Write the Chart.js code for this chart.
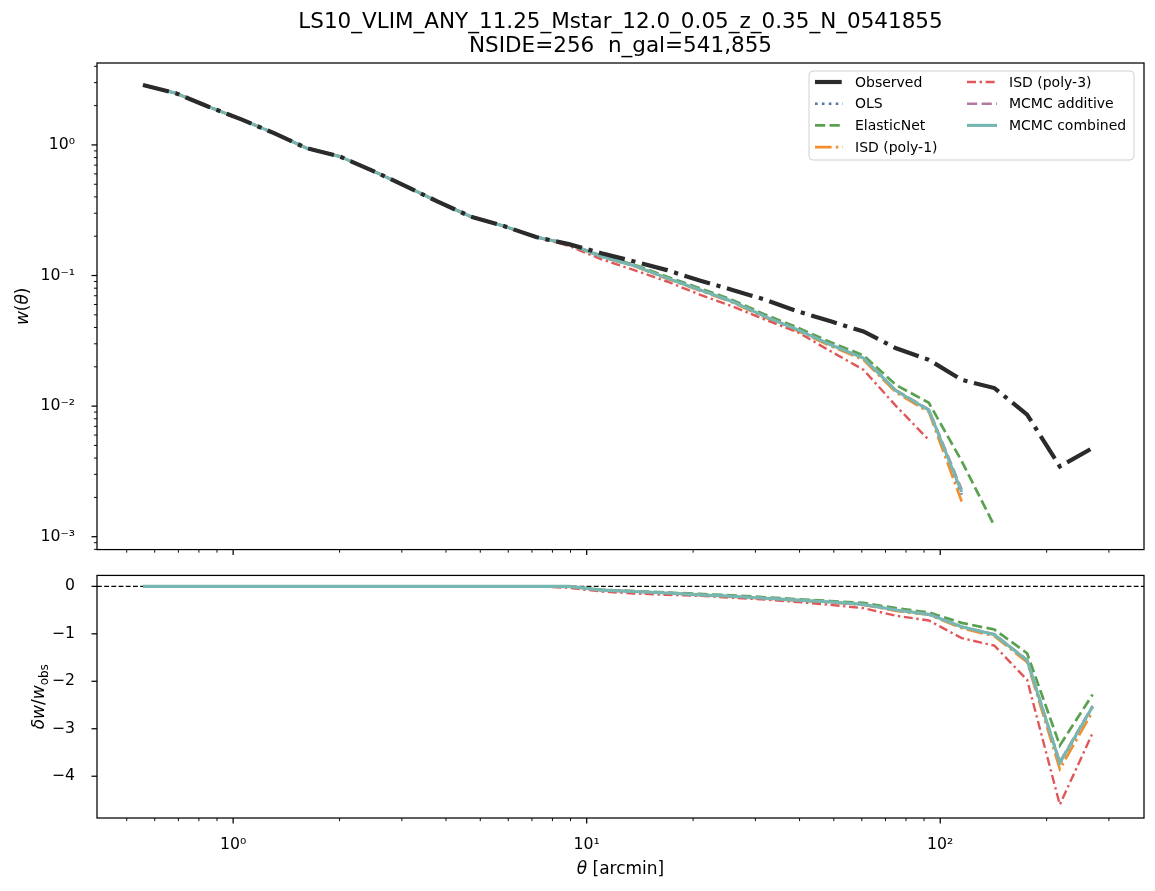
<!DOCTYPE html>
<html>
<head>
<meta charset="utf-8">
<script src="https://cdn.jsdelivr.net/npm/chart.js@4.4.1/dist/chart.umd.min.js"></script>
<style>
  body { margin: 0; background: #fff; }
  #fig { position: relative; width: 1155px; height: 891px; }
  #fig canvas { position: absolute; left: 0; }
  #title { position: absolute; left: 97px; width: 1047px; top: 9px; text-align: center;
           font-family: 'DejaVu Sans'; font-size: 21.5px; line-height: 24px; color: #000; }
</style>
</head>
<body>
<div id="fig">
  <!-- the two canvases overlap a little: chart.js keeps room for the outer tick labels -->
  <canvas id="top" width="1155" height="573" style="top:0"></canvas>
  <canvas id="bottom" width="1155" height="339" style="top:552px"></canvas>
  <div id="title">LS10_VLIM_ANY_11.25_Mstar_12.0_0.05_z_0.35_N_0541855<br>NSIDE=256&nbsp;&nbsp;n_gal=541,855</div>
</div>
<script>
// theta bin centres [arcmin]
const theta = [0.556, 0.688, 0.852, 1.055, 1.305, 1.616, 2.000, 2.475, 3.064, 3.792,
               4.693, 5.807, 7.188, 8.896, 11.01, 13.63, 16.87, 20.87, 25.84, 31.98,
               39.58, 48.99, 60.63, 75.04, 92.88, 114.96, 142.3, 176.1, 217.9, 269.7];

// w(theta), top panel
const wObs = [2.88, 2.49, 1.96, 1.57, 1.23, 0.943, 0.817, 0.636, 0.486, 0.368,
              0.283, 0.240, 0.197, 0.174, 0.148, 0.128, 0.110, 0.0916, 0.0776, 0.0653,
              0.0531, 0.0446, 0.0373, 0.0277, 0.0226, 0.0159, 0.01375, 0.0086, 0.00345, 0.00478];
const wOLS = [2.88, 2.49, 1.96, 1.57, 1.23, 0.943, 0.817, 0.636, 0.486, 0.368,
              0.283, 0.240, 0.197, 0.174, 0.140, 0.119, 0.0953, 0.0775, 0.0630, 0.0483,
              0.0382, 0.0293, 0.0231, 0.0130, 0.0092, 0.0021, null, null, null, null];
const wElastic = [2.88, 2.49, 1.96, 1.57, 1.23, 0.943, 0.817, 0.636, 0.486, 0.368,
              0.283, 0.240, 0.197, 0.174, 0.142, 0.121, 0.098, 0.080, 0.065, 0.0502,
              0.0398, 0.0308, 0.0245, 0.0145, 0.0106, 0.0038, 0.00121, null, null, null];
const wIsd1 = [2.88, 2.49, 1.96, 1.57, 1.23, 0.943, 0.817, 0.636, 0.486, 0.368,
              0.283, 0.240, 0.197, 0.174, 0.139, 0.118, 0.0945, 0.0768, 0.0622, 0.0477,
              0.0376, 0.0288, 0.0226, 0.0127, 0.0090, 0.00186, null, null, null, null];
const wIsd3 = [2.88, 2.49, 1.96, 1.57, 1.23, 0.943, 0.817, 0.636, 0.486, 0.368,
              0.283, 0.240, 0.197, 0.169, 0.133, 0.110, 0.090, 0.0715, 0.0580, 0.0459,
              0.0367, 0.0263, 0.0190, 0.0100, 0.0055, null, null, null, null, null];
const wMcmcAdd = [2.88, 2.49, 1.96, 1.57, 1.23, 0.943, 0.817, 0.636, 0.486, 0.368,
              0.283, 0.240, 0.197, 0.174, 0.140, 0.119, 0.0956, 0.0778, 0.0633, 0.0486,
              0.0385, 0.0296, 0.0234, 0.0132, 0.0094, 0.0023, null, null, null, null];
const wMcmcComb = [2.88, 2.49, 1.96, 1.57, 1.23, 0.943, 0.817, 0.636, 0.486, 0.368,
              0.283, 0.240, 0.197, 0.174, 0.140, 0.119, 0.0955, 0.0777, 0.0632, 0.0485,
              0.0384, 0.0295, 0.0233, 0.0131, 0.0093, 0.0022, null, null, null, null];

// delta w / w_obs, bottom panel
const dOLS = [0, 0, 0, 0, 0, 0, 0, 0, 0, 0, 0, 0, 0, 0,
              -0.08, -0.11, -0.14, -0.18, -0.21, -0.25, -0.29, -0.33, -0.38, -0.51, -0.59, -0.86, -1.02, -1.57, -3.74, -2.55];
const dElastic = [0, 0, 0, 0, 0, 0, 0, 0, 0, 0, 0, 0, 0, 0,
              -0.07, -0.10, -0.13, -0.16, -0.19, -0.23, -0.27, -0.31, -0.35, -0.46, -0.55, -0.77, -0.91, -1.41, -3.35, -2.28];
const dIsd1 = [0, 0, 0, 0, 0, 0, 0, 0, 0, 0, 0, 0, 0, 0,
              -0.08, -0.11, -0.14, -0.18, -0.22, -0.26, -0.30, -0.34, -0.39, -0.52, -0.60, -0.88, -1.05, -1.60, -3.85, -2.64];
const dIsd3 = [0, 0, 0, 0, 0, 0, 0, 0, 0, 0, 0, 0, 0, -0.03,
              -0.11, -0.15, -0.18, -0.20, -0.24, -0.28, -0.33, -0.39, -0.46, -0.62, -0.72, -1.09, -1.25, -1.97, -4.60, -3.09];
const dMcmcAdd = [0, 0, 0, 0, 0, 0, 0, 0, 0, 0, 0, 0, 0, 0,
              -0.08, -0.11, -0.14, -0.18, -0.21, -0.25, -0.29, -0.33, -0.38, -0.50, -0.58, -0.85, -1.01, -1.55, -3.70, -2.52];
const dMcmcComb = [0, 0, 0, 0, 0, 0, 0, 0, 0, 0, 0, 0, 0, 0,
              -0.08, -0.11, -0.14, -0.18, -0.21, -0.25, -0.29, -0.33, -0.38, -0.50, -0.59, -0.85, -1.02, -1.56, -3.72, -2.53];

// tick labels
const xMajor = [1, 10, 100];
const xTickLabels = ['10⁰', '10¹', '10²'];
const yTopMajor = [0.001, 0.01, 0.1, 1];
const yTopTickLabels = ['10⁻³', '10⁻²', '10⁻¹', '10⁰'];
const yBotTicks = [0, -1, -2, -3, -4];
const yBotTickLabels = ['0', '−1', '−2', '−3', '−4'];

const FONT = "'DejaVu Sans'";
Chart.defaults.font.family = FONT;
Chart.defaults.color = '#000';

// line styles (matplotlib-ish)
const styles = {
  obs:   { color: '#2b2b2b', width: 4.2, dash: [26.7, 6.7, 4.2, 6.7] },
  ols:   { color: '#4e79a7', width: 2.6, dash: [2.6, 4.3] },
  enet:  { color: '#59a14f', width: 2.7, dash: [10.2, 4.4] },
  isd1:  { color: '#f28e2b', width: 2.6, dash: [16.6, 4.2, 2.6, 4.2] },
  isd3:  { color: '#e15759', width: 2.4, dash: [9, 3.6, 2.4, 3.6] },
  add:   { color: '#b07aa1', width: 2.6, dash: [10.2, 4.4] },
  comb:  { color: '#76b7b2', width: 3.1, dash: [] }
};

function series(label, vals, st, order) {
  return {
    label,
    data: theta.map((t, i) => ({ x: t, y: vals[i] })),
    borderColor: st.color,
    borderWidth: st.width,
    borderDash: st.dash,
    borderCapStyle: 'butt',
    pointRadius: 0,
    fill: false,
    tension: 0,
    spanGaps: false,
    order
  };
}

function logTicks(min, max) {
  const out = [];
  for (let e = Math.floor(Math.log10(min)); e <= Math.ceil(Math.log10(max)); e++) {
    for (let k = 1; k <= 9; k++) {
      const v = k * Math.pow(10, e);
      if (v >= min && v <= max) out.push({ value: v, major: k === 1 });
    }
  }
  return out;
}

function labelFor(v, majors, labels) {
  for (let i = 0; i < majors.length; i++) {
    if (Math.abs(v / majors[i] - 1) < 1e-6) return labels[i];
  }
  return '';
}

// draws text made of differently styled pieces, centred at (x, y)
function drawParts(ctx, parts, x, y, rot) {
  ctx.save();
  ctx.translate(x, y);
  if (rot) ctx.rotate(-Math.PI / 2);
  ctx.textBaseline = 'alphabetic';
  ctx.textAlign = 'left';
  let total = 0;
  for (const p of parts) { ctx.font = p.font; total += ctx.measureText(p.t).width; }
  let cx = -total / 2;
  for (const p of parts) {
    ctx.font = p.font;
    ctx.fillText(p.t, cx, p.dy || 0);
    cx += ctx.measureText(p.t).width;
  }
  ctx.restore();
}

// spines, outward ticks, zero line and axis labels
const frame = {
  id: 'frame',
  beforeDatasetsDraw(chart, args, opts) {
    if (!opts.zeroLine) return;
    const { ctx, chartArea: a } = chart;
    const py = chart.scales.y.getPixelForValue(0);
    ctx.save();
    ctx.strokeStyle = '#000';
    ctx.lineWidth = 1.1;
    ctx.setLineDash([4.8, 2.4]);
    ctx.beginPath();
    ctx.moveTo(a.left, py);
    ctx.lineTo(a.right, py);
    ctx.stroke();
    ctx.restore();
  },
  afterDraw(chart, args, opts) {
    const { ctx, chartArea: a } = chart;
    ctx.save();
    ctx.strokeStyle = '#000';
    for (const t of chart.scales.x.ticks) {
      const px = chart.scales.x.getPixelForValue(t.value);
      ctx.lineWidth = t.major ? 1.25 : 0.95;
      ctx.beginPath();
      ctx.moveTo(px, a.bottom);
      ctx.lineTo(px, a.bottom + (t.major ? 5.5 : 3.1));
      ctx.stroke();
    }
    for (const t of chart.scales.y.ticks) {
      const py = chart.scales.y.getPixelForValue(t.value);
      ctx.lineWidth = t.major ? 1.25 : 0.95;
      ctx.beginPath();
      ctx.moveTo(a.left, py);
      ctx.lineTo(a.left - (t.major ? 5.5 : 3.1), py);
      ctx.stroke();
    }
    ctx.lineWidth = 1.25;
    ctx.strokeRect(a.left, a.top, a.right - a.left, a.bottom - a.top);
    ctx.fillStyle = '#000';
    if (opts.yLabel) drawParts(ctx, opts.yLabel, opts.yLabelX, (a.top + a.bottom) / 2, true);
    if (opts.xLabel) drawParts(ctx, opts.xLabel, (a.left + a.right) / 2, opts.xLabelY, false);
    ctx.restore();
  }
};

// matplotlib-style legend in the upper right corner, two columns
const mplLegend = {
  id: 'mplLegend',
  afterDatasetsDraw(chart) {
    const { ctx, chartArea: a } = chart;
    const bw = 325, bh = 89;
    const bx = a.right - 10 - bw, by = a.top + 8;
    ctx.save();
    const r = 4;
    ctx.beginPath();
    ctx.moveTo(bx + r, by);
    ctx.lineTo(bx + bw - r, by);
    ctx.quadraticCurveTo(bx + bw, by, bx + bw, by + r);
    ctx.lineTo(bx + bw, by + bh - r);
    ctx.quadraticCurveTo(bx + bw, by + bh, bx + bw - r, by + bh);
    ctx.lineTo(bx + r, by + bh);
    ctx.quadraticCurveTo(bx, by + bh, bx, by + bh - r);
    ctx.lineTo(bx, by + r);
    ctx.quadraticCurveTo(bx, by, bx + r, by);
    ctx.closePath();
    ctx.fillStyle = 'rgba(255,255,255,0.8)';
    ctx.fill();
    ctx.strokeStyle = '#d0d0d0';
    ctx.lineWidth = 1;
    ctx.stroke();
    ctx.font = '14px ' + FONT;
    ctx.textBaseline = 'middle';
    ctx.textAlign = 'left';
    chart.data.datasets.forEach((ds, i) => {
      const col = i < 4 ? 0 : 1;
      const row = i < 4 ? i : i - 4;
      const y = by + 11 + row * 21.7;
      const hx = bx + (col ? 158 : 6);
      const hw = col ? 30 : 28;
      ctx.strokeStyle = ds.borderColor;
      ctx.lineWidth = ds.borderWidth;
      ctx.lineCap = 'butt';
      ctx.setLineDash(ds.borderDash);
      ctx.beginPath();
      ctx.moveTo(hx, y);
      ctx.lineTo(hx + hw, y);
      ctx.stroke();
      ctx.setLineDash([]);
      ctx.fillStyle = '#000';
      ctx.fillText(ds.label, bx + (col ? 200 : 46), y + 1);
    });
    ctx.restore();
  }
};

const X_MIN = 0.412, X_MAX = 377;

function xScale(showLabels) {
  return {
    type: 'logarithmic',
    min: X_MIN,
    max: X_MAX,
    grid: { display: false },
    border: { display: false },
    afterBuildTicks: s => { s.ticks = logTicks(X_MIN, X_MAX); },
    ticks: {
      autoSkip: false,
      maxRotation: 0,
      padding: 10,
      font: { size: 15.7 },
      callback: v => showLabels ? labelFor(v, xMajor, xTickLabels) : ''
    },
    afterFit: s => { s.height = showLabels ? 73 : 10; }
  };
}

const italic = 'italic 17px ' + FONT, roman = '17px ' + FONT, sub = '12px ' + FONT;

new Chart(document.getElementById('top'), {
  type: 'line',
  data: {
    datasets: [
      series('Observed', wObs, styles.obs, 0),
      series('OLS', wOLS, styles.ols, 6),
      series('ElasticNet', wElastic, styles.enet, 5),
      series('ISD (poly-1)', wIsd1, styles.isd1, 4),
      series('ISD (poly-3)', wIsd3, styles.isd3, 3),
      series('MCMC additive', wMcmcAdd, styles.add, 2),
      series('MCMC combined', wMcmcComb, styles.comb, 1)
    ]
  },
  options: {
    responsive: false,
    animation: false,
    devicePixelRatio: 1,
    layout: { padding: { top: 63, right: 11, left: 0, bottom: 0 } },
    plugins: {
      legend: { display: false },
      tooltip: { enabled: false },
      frame: {
        yLabel: [{ t: 'w', font: italic }, { t: '(', font: roman }, { t: 'θ', font: italic }, { t: ')', font: roman }],
        yLabelX: 28
      }
    },
    scales: {
      x: xScale(false),
      y: {
        type: 'logarithmic',
        min: 0.000797,
        max: 4.24,
        grid: { display: false },
        border: { display: false },
        afterBuildTicks: s => { s.ticks = logTicks(0.000797, 4.24); },
        ticks: {
          autoSkip: false,
          padding: 14,
          font: { size: 15.7 },
          callback: v => labelFor(v, yTopMajor, yTopTickLabels)
        },
        afterFit: s => { s.width = 97; }
      }
    }
  },
  plugins: [frame, mplLegend]
});

new Chart(document.getElementById('bottom'), {
  type: 'line',
  data: {
    datasets: [
      series('OLS', dOLS, styles.ols, 6),
      series('ElasticNet', dElastic, styles.enet, 5),
      series('ISD (poly-1)', dIsd1, styles.isd1, 4),
      series('ISD (poly-3)', dIsd3, styles.isd3, 3),
      series('MCMC additive', dMcmcAdd, styles.add, 2),
      series('MCMC combined', dMcmcComb, styles.comb, 1)
    ]
  },
  options: {
    responsive: false,
    animation: false,
    devicePixelRatio: 1,
    layout: { padding: { top: 15, right: 11, left: 0, bottom: 0 } },
    plugins: {
      legend: { display: false },
      tooltip: { enabled: false },
      frame: {
        zeroLine: true,
        yLabel: [{ t: 'δw', font: italic }, { t: '/', font: roman }, { t: 'w', font: italic }, { t: 'obs', font: sub, dy: 3.5 }],
        yLabelX: 44,
        xLabel: [{ t: 'θ', font: italic }, { t: ' [arcmin]', font: roman }],
        xLabelY: 322
      }
    },
    scales: {
      x: xScale(true),
      y: {
        type: 'linear',
        min: -4.88,
        max: 0.23,
        grid: { display: false },
        border: { display: false },
        afterBuildTicks: s => { s.ticks = yBotTicks.map(v => ({ value: v, major: true })); },
        ticks: {
          autoSkip: false,
          padding: 14,
          font: { size: 15.7 },
          callback: v => labelFor(v === 0 ? 1e-12 : v, yBotTicks.map(t => t === 0 ? 1e-12 : t), yBotTickLabels)
        },
        afterFit: s => { s.width = 97; }
      }
    }
  },
  plugins: [frame]
});
</script>
</body>
</html>
